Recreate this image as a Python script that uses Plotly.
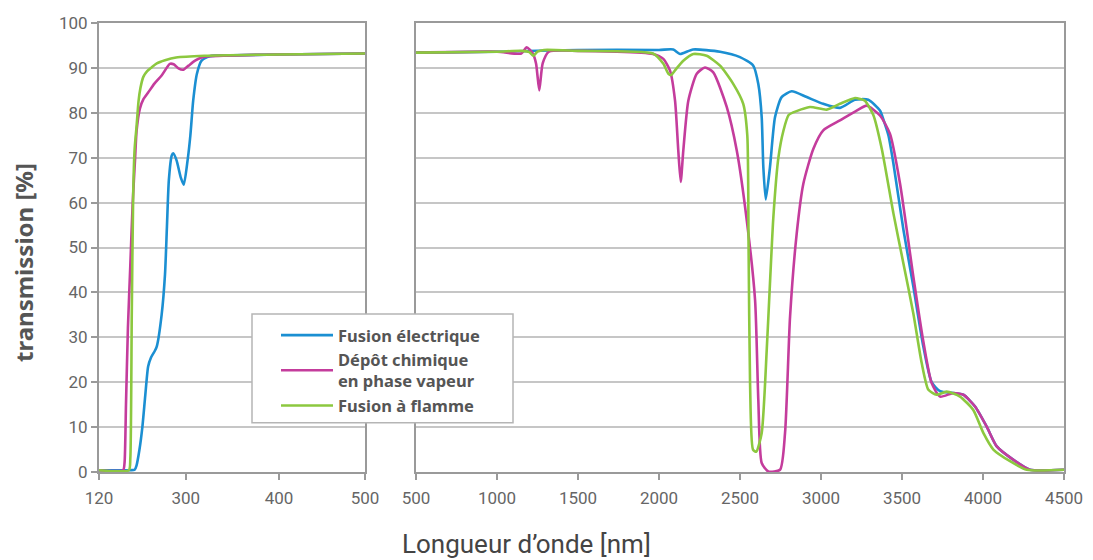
import numpy as np
import plotly.graph_objects as go

# ---------------- data ----------------
series_names = ["Fusion électrique", "Dépôt chimique<br>en phase vapeur", "Fusion à flamme"]
series_colors = ["#1b8fd2", "#c43c9c", "#8cc83f"]

# UV / visible panel (nm, %)
uv_nm_fe = [120, 185, 194, 198, 204, 210, 216, 222, 228, 236, 240, 250, 257, 261, 265, 271, 274, 281, 290, 296,
            302, 305, 308, 312, 317, 326, 350, 400, 450, 500]
uv_fe = [0.4, 0.4, 0.5, 1.5, 5, 10, 17, 23.5, 25.5, 27, 28, 35, 44, 54.6, 65, 70.5, 71, 69.4, 65.5, 64,
         69.4, 75, 82.7, 88.7, 91.6, 92.6, 92.8, 93, 93.1, 93.2]

uv_nm_cvd = [120, 170, 173, 176, 180, 185, 190, 195, 198, 205, 212, 222, 235, 250, 267, 275, 285, 295, 303, 310,
             317, 325, 400, 500]
uv_cvd = [0.4, 0.4, 2, 15, 32, 46, 60, 70, 76, 81, 83, 84.5, 86.5, 88.3, 90.9, 90.8, 89.9, 89.6, 90.5, 91.6,
          92.3, 92.6, 93, 93.2]

uv_nm_ff = [120, 182, 185, 188, 191, 194, 198, 202, 206, 212, 220, 229, 240, 257, 280, 320, 400, 500]
uv_ff = [0.4, 0.4, 3, 35, 62, 72, 77, 82.5, 85.5, 88, 89.3, 90.1, 91, 91.7, 92.3, 92.7, 93, 93.2]

# IR panel (nm, %)
ir_nm_fe = [500, 1000, 1500, 2000, 2088, 2130, 2210, 2377, 2500, 2582, 2613, 2634, 2644, 2659, 2685, 2716, 2757,
            2819, 2912, 3014, 3117, 3210, 3292, 3364, 3385, 3416, 3447, 3509, 3570, 3632, 3683, 3735, 3817, 3879,
            3951, 4023, 4085, 4188, 4290, 4500]
ir_fe = [93.4, 93.6, 94, 94, 94.1, 93.1, 94.1, 93.6, 92.4, 90.5, 86.4, 79, 67.9, 60.7, 67.9, 79, 83.5,
         84.8, 83.5, 82, 81.1, 82.9, 82.9, 80.5, 78.5, 75, 68.7, 53.9, 41.3, 27.9, 20, 18, 17.6, 17.2,
         14.6, 10.1, 5.7, 2.7, 0.5, 0.5]

ir_nm_cvd = [500, 1000, 1150, 1183, 1220, 1241, 1261, 1282, 1320, 1500, 1963, 2027, 2068, 2099, 2119, 2134, 2150,
             2181, 2233, 2284, 2335, 2418, 2480, 2542, 2593, 2613, 2634, 2675, 2747, 2778, 2809, 2850, 2891, 2953,
             3014, 3117, 3220, 3282, 3364, 3426, 3488, 3570, 3632, 3683, 3735, 3817, 3879, 3951, 4023, 4085, 4188,
             4290, 4500]
ir_cvd = [93.4, 93.6, 93.2, 94.6, 93.3, 91, 85, 91, 93.6, 93.8, 93.1, 92, 89.4, 82.7, 71.6, 64.6, 71.6,
          82.7, 88.7, 90.1, 89, 81.3, 71.6, 56, 38.3, 16.1, 2, 0.1, 0.5, 8.7, 34.6, 53.1, 64.2, 72,
          76.1, 78.3, 80.5, 81.6, 79.4, 75.3, 64.2, 43.5, 29, 19.8, 16.8, 17.6, 17.2, 14.6, 10.1, 5.7, 2.7,
          0.5, 0.5]

ir_nm_ff = [500, 1000, 1150, 1200, 1224, 1250, 1290, 1500, 1963, 2027, 2058, 2075, 2100, 2150, 2212, 2294, 2377,
            2459, 2520, 2545, 2553, 2562, 2580, 2600, 2634, 2665, 2685, 2706, 2737, 2768, 2800, 2829, 2932, 3035,
            3117, 3210, 3241, 3271, 3323, 3375, 3447, 3509, 3570, 3622, 3663, 3714, 3776, 3858, 3940, 4002, 4064,
            4167, 4270, 4500]
ir_ff = [93.4, 93.6, 93.8, 93.5, 92.7, 93.6, 94, 93.8, 93.2, 90.9, 88.7, 88.4, 89.5, 91.6, 93.1, 92.7, 90.5,
         86.4, 82, 75, 50, 20, 5, 4.5, 8.7, 27.2, 42, 56.8, 70, 76, 79.5, 80.1, 81.3, 80.7,
         82, 83.3, 83.1, 82.7, 79.5, 72, 57.6, 46.4, 35.3, 24.2, 18.3, 17.2, 17.9, 16.8, 13.8, 8.7, 5,
         2.4, 0.5, 0.5]

uv_ticks = [120, 300, 400, 500]
uv_tick_pos = [0, 0.326, 0.677, 1.0]   # the UV axis is non-linear in the original
ir_ticks = [500, 1000, 1500, 2000, 2500, 3000, 3500, 4000, 4500]
y_ticks = list(range(0, 101, 10))


def uv_axis(nm):
    return np.interp(nm, uv_ticks, uv_tick_pos)


uv_x = [uv_nm_fe, uv_nm_cvd, uv_nm_ff]
uv_y = [uv_fe, uv_cvd, uv_ff]
ir_x = [ir_nm_fe, ir_nm_cvd, ir_nm_ff]
ir_y = [ir_fe, ir_cvd, ir_ff]

TICKFONT = "Roboto, Liberation Sans, sans-serif"
BOLDFONT = "Noto Sans, DejaVu Sans, sans-serif"
GRID = "#c6c6c6"
AXIS = "#9a9a9a"

fig = go.Figure()
for i in range(3):
    fig.add_trace(go.Scatter(x=uv_axis(uv_x[i]), y=uv_y[i], mode="lines", name=series_names[i],
                             line=dict(color=series_colors[i], width=2.6, shape="spline", smoothing=0.6),
                             showlegend=False, xaxis="x", yaxis="y"))
for i in range(3):
    fig.add_trace(go.Scatter(x=ir_x[i], y=ir_y[i], mode="lines", name=series_names[i],
                             line=dict(color=series_colors[i], width=2.6, shape="spline", smoothing=0.6),
                             showlegend=True, xaxis="x2", yaxis="y2"))

common_x = dict(showgrid=False, showline=True, linecolor=AXIS, linewidth=2, mirror=True,
                ticks="outside", ticklen=6, tickcolor=AXIS, tickwidth=1.5, automargin=False,
                ticklabelstandoff=4,
                tickfont=dict(family=TICKFONT, size=17, color="#666666"), zeroline=False)
common_y = dict(range=[0, 100], tickvals=y_ticks, showgrid=True, gridcolor=GRID, gridwidth=1.5,
                showline=True, linecolor=AXIS, linewidth=2, mirror=True, zeroline=False, automargin=False)

# page is offset by the 8px body margin; plot area in page px: x 99..1064 (gap 365..416), y 22.7..472.3
PL, PW, PB, PH = 99, 965, 472.3, 449.6
def px_x(p):
    return (p - PL) / PW
def px_y(p):
    return (PB - p) / PH

fig.update_layout(
    width=1085, height=552,
    margin=dict(l=91, r=29, t=15, b=88, autoexpand=False),
    paper_bgcolor="white", plot_bgcolor="white",
    xaxis=dict(domain=[0, px_x(365)], range=[0, 1], tickvals=uv_tick_pos, ticktext=[str(t) for t in uv_ticks],
               **common_x),
    xaxis2=dict(domain=[px_x(416), 1], range=[500, 4500], tickvals=ir_ticks, **common_x),
    yaxis=dict(anchor="x", ticks="outside", ticklen=6, tickcolor=AXIS, tickwidth=1.5,
               tickfont=dict(family=TICKFONT, size=17, color="#666666"), **common_y),
    yaxis2=dict(anchor="x2", showticklabels=False, ticks="", **common_y),
    legend=dict(x=px_x(276), y=px_y(318), xanchor="left", yanchor="top",
                bgcolor="rgba(0,0,0,0)", borderwidth=0,
                font=dict(family=BOLDFONT, size=16.5, color="#555555", weight="bold"),
                tracegroupgap=0, itemwidth=52),
    shapes=[dict(type="rect", xref="paper", yref="paper", x0=px_x(252), x1=px_x(513),
                 y0=px_y(423), y1=px_y(314), fillcolor="white", line=dict(color="#b5b5b5", width=1.5),
                 layer="above")],
    annotations=[
        dict(text="transmission [%]", xref="paper", yref="paper", x=px_x(24), y=px_y(263),
             textangle=-90, showarrow=False, xanchor="center", yanchor="middle",
             font=dict(family=BOLDFONT, size=24, color="#555555", weight="bold")),
        dict(text="Longueur d’onde [nm]", xref="paper", yref="paper", x=px_x(526), y=px_y(544),
             showarrow=False, xanchor="center", yanchor="middle",
             font=dict(family=TICKFONT, size=26, color="#444444")),
    ],
)

fig.write_html("out.html")
